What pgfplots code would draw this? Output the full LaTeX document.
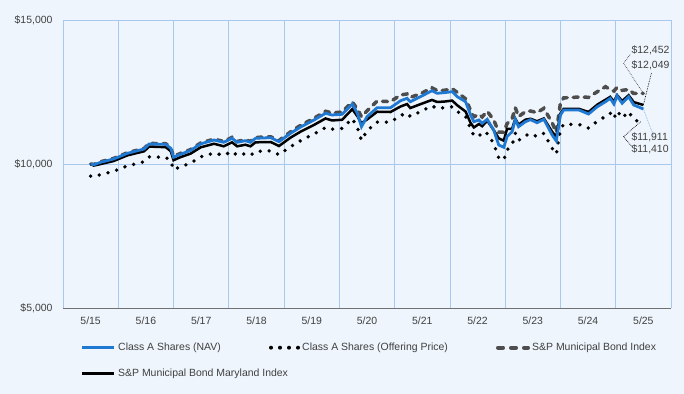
\documentclass[border=0pt]{standalone}
\usepackage{pgfplots}
\pgfplotsset{compat=1.18}
\usepackage{pgfplotstable}
\usepackage{fontspec}
\setmainfont{Liberation Sans}
\definecolor{bgc}{HTML}{EEF5FC}
\definecolor{gridc}{HTML}{A9C8EE}
\definecolor{navc}{HTML}{1F78D1}
\definecolor{spc}{HTML}{4D4D4D}
\definecolor{txtc}{HTML}{404040}
\pgfplotstableread{
m nav off md sp
0 10000 9580 10000 10000
0.7 9976 9557 9946 9986
2.2 10059 9637 9999 10079
5 10174 9747 10104 10194
8 10371 9935 10301 10391
11.6 10521 10079 10441 10541
12.7 10695 10246 10605 10715
16.3 10684 10235 10584 10704
17.4 10545 10102 10445 10565
18 10233 9803 10133 10263
19.5 10337 9903 10237 10367
21.7 10470 10030 10360 10500
23.9 10700 10251 10580 10730
26.8 10833 10378 10703 10863
28.9 10754 10302 10614 10784
30.7 10893 10436 10753 10923
31.8 10754 10302 10614 10784
33.6 10809 10355 10669 10839
34.7 10754 10302 10614 10784
35.8 10893 10436 10753 10923
39.1 10914 10456 10764 10944
40.9 10775 10322 10625 10815
43.4 11066 10601 10916 11116
45.6 11285 10811 11125 11345
48.5 11528 11044 11358 11588
51 11761 11267 11581 11831
52.4 11702 11211 11512 11772
54.6 11726 11234 11536 11806
56.8 12084 11576 11904 12154
57.9 11761 11267 11661 11911
58.8 11295 10821 11415 11640
60 11643 11154 11543 11843
62.2 11955 11453 11815 12185
65.1 11955 11453 11805 12165
67.3 12198 11686 11998 12398
68.7 12281 11765 12081 12431
69.4 12163 11652 11943 12313
71.6 12337 11819 12077 12437
74.1 12545 12018 12225 12645
75.2 12455 11932 12155 12555
76.7 12476 11952 12166 12556
78.5 12511 11986 12201 12611
79.6 12337 11819 12037 12487
81.4 12163 11652 11823 12263
82.5 11702 11211 11422 11852
83.2 11469 10987 11269 11639
84.3 11528 11044 11388 11728
85 11413 10934 11313 11633
86.1 11552 11067 11502 11832
87.5 11181 10711 11181 11531
88.6 10660 10212 10890 11110
89.7 10580 10136 10810 11100
90.4 10948 10488 11218 11398
91.5 11122 10655 11222 11572
92.2 11552 11067 11572 11952
92.9 11295 10821 11365 11645
94.4 11469 10987 11539 11819
95.5 11540 11055 11570 11840
96.9 11434 10954 11484 11784
98.4 11552 11067 11582 11932
100.2 11007 10545 11117 11427
101.1 10799 10345 10939 11099
102 11702 11211 11752 12122
102.7 11875 11376 11915 12295
106 11875 11376 11915 12325
108.1 11736 11243 11806 12316
110 11990 11486 12060 12510
111.8 12163 11652 12233 12683
112.8 12281 11765 12331 12581
113.6 12084 11576 12164 12534
114.3 12361 11842 12391 12661
115.4 12108 11599 12188 12558
116.8 12337 11819 12387 12587
117.9 12049 11543 12149 12449
120 11911 11410 12049 12452
}\data
\begin{document}
\begin{tikzpicture}[font=\fontsize{10.5}{12}\selectfont]
\fill[bgc] (-63bp,-86bp) rectangle (621bp,308bp);
\begin{axis}[
  scale only axis, width=608bp, height=288bp,
  xmin=-6, xmax=126, ymin=5000, ymax=15000,
  scaled y ticks=false, scaled x ticks=false,
  axis line style={draw=none},
  xtick={0,12,...,120},
  xticklabels={5/15,5/16,5/17,5/18,5/19,5/20,5/21,5/22,5/23,5/24,5/25},
  minor xtick={-6,6,...,126},
  xminorgrids=true,
  ytick={5000,10000,15000},
  yticklabels={{\$5,000},{\$10,000},{\$15,000}},
  ymajorgrids=true,
  major tick length=0pt, minor tick length=0pt,
  grid style={draw=gridc, line width=0.8bp},
  minor grid style={draw=gridc, line width=0.8bp},
  tick label style={text=txtc, font=\fontsize{10.5}{12}\selectfont},
  xticklabel style={yshift=-5bp},
  yticklabel style={xshift=-7bp},
  clip=false,
]
\draw[draw=spc!80, line width=1bp] (axis cs:-6,5000) -- (axis cs:126,5000);
\addplot[spc, line width=3.5bp, line cap=round, dash pattern=on 5bp off 6bp] table[x=m,y=sp] {\data};
\addplot[black, line width=3.8bp, line cap=round, dash pattern=on 0bp off 9bp] table[x=m,y=off] {\data};
\addplot[black, line width=2.5bp] table[x=m,y=md] {\data};
\addplot[navc, line width=2.8bp] table[x=m,y=nav] {\data};
% annotations
\draw[densely dotted, spc, line width=0.7bp] (axis cs:120,12452) -- (axis cs:115.7,13497) -- (axis cs:117.2,13819);
\draw[densely dotted, black, line width=0.7bp] (axis cs:120,12049) -- (axis cs:121.8,13190);
\draw[densely dotted, navc!60, line width=0.7bp] (axis cs:120,11911) -- (axis cs:122.2,10990);
\draw[densely dotted, black, line width=0.7bp] (axis cs:119.4,11469) -- (axis cs:115.7,10948) -- (axis cs:117.5,10601);
\node[anchor=west, inner sep=0pt, text=txtc] at (axis cs:117.4,13958) {\$12,452};
\node[anchor=west, inner sep=0pt, text=txtc] at (axis cs:117.4,13413) {\$12,049};
\node[anchor=west, inner sep=0pt, text=txtc] at (axis cs:117.4,10927) {\$11,911};
\node[anchor=west, inner sep=0pt, text=txtc] at (axis cs:117.4,10510) {\$11,410};
\end{axis}
% legend
\draw[navc, line width=2.8bp] (19bp,-39.7bp) -- (51bp,-39.7bp);
\node[anchor=west, inner sep=0pt, text=txtc] at (55bp,-39.7bp) {Class A Shares (NAV)};
\draw[black, line width=4bp, line cap=round, dash pattern=on 0bp off 9bp] (208bp,-39.7bp) -- (235bp,-39.7bp);
\node[anchor=west, inner sep=0pt, text=txtc] at (239bp,-39.7bp) {Class A Shares (Offering Price)};
\draw[spc, line width=4bp, line cap=round, dash pattern=on 5bp off 8bp] (435bp,-39.7bp) -- (465bp,-39.7bp);
\node[anchor=west, inner sep=0pt, text=txtc] at (469bp,-39.7bp) {S\&P Municipal Bond Index};
\draw[black, line width=2.8bp] (19bp,-65.3bp) -- (51bp,-65.3bp);
\node[anchor=west, inner sep=0pt, text=txtc] at (55bp,-65.3bp) {S\&P Municipal Bond Maryland Index};
\pgfresetboundingbox
\useasboundingbox (-63bp,-86bp) rectangle (621bp,308bp);
\end{tikzpicture}
\end{document}
